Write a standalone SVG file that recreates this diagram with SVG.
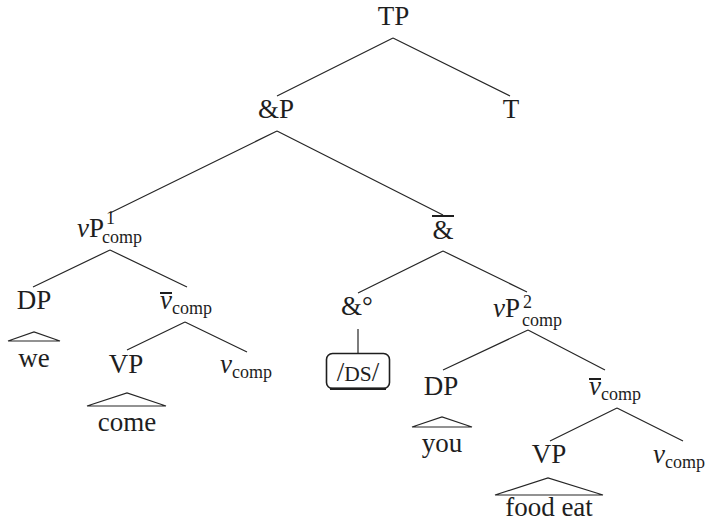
<svg xmlns="http://www.w3.org/2000/svg" width="708" height="523" viewBox="0 0 708 523">
  <style>
    text { font-family: "Liberation Serif", "Times New Roman", serif; fill: #1e1e1e; }
    .lbl { font-size: 27px; }
    .it { font-style: italic; }
    .sub { font-size: 18px; }
    .edge { stroke: #262626; stroke-width: 1.2; fill: none; }
    .tri { stroke: #262626; stroke-width: 1.2; fill: none; stroke-linejoin: miter; }
    .bar { stroke: #1e1e1e; stroke-width: 2; }
  </style>

  <!-- tree branches -->
  <g id="connectors">
    <path class="edge" d="M393,38 L277,96 M393,38 L510,96"/>
    <path class="edge" d="M277,131 L110,213 M277,131 L443,215"/>
    <path class="edge" d="M110,250 L33,287 M110,250 L187,287"/>
    <path class="edge" d="M185,322 L127,350 M185,322 L247,352"/>
    <path class="edge" d="M443,251 L358,293 M443,251 L527,292"/>
    <path class="edge" d="M358,329 L358,353"/>
    <path class="edge" d="M528,330 L443,370 M528,330 L605,370"/>
    <path class="edge" d="M617,408 L550,441 M617,408 L683,441"/>
  </g>

  <g id="TP"><text class="lbl" x="393.5" y="25" text-anchor="middle">TP</text></g>
  <g id="andP"><text class="lbl" x="276" y="118" text-anchor="middle">&amp;P</text></g>
  <g id="T"><text class="lbl" x="511" y="118" text-anchor="middle">T</text></g>

  <g id="vP1">
    <text class="lbl" x="77" y="237"><tspan class="it">v</tspan>P</text>
    <text class="sub" x="106" y="224">1</text>
    <text class="sub" x="102" y="243">comp</text>
  </g>

  <g id="DP1">
    <text class="lbl" x="34" y="309" text-anchor="middle">DP</text>
    <path class="tri" d="M8,341 L34,332 L60,341 Z"/>
    <text class="lbl" x="34" y="367" text-anchor="middle">we</text>
  </g>

  <g id="vbar1">
    <line class="bar" x1="160" y1="293" x2="172" y2="293"/>
    <text class="lbl it" x="160" y="309">v</text>
    <text class="sub" x="172" y="314">comp</text>
  </g>

  <g id="VP1">
    <text class="lbl" x="126" y="373" text-anchor="middle">VP</text>
    <path class="tri" d="M87,406 L127,393 L166,406 Z"/>
    <text class="lbl" x="127" y="431" text-anchor="middle">come</text>
  </g>

  <g id="v1">
    <text class="lbl it" x="220" y="373">v</text>
    <text class="sub" x="232" y="378">comp</text>
  </g>

  <g id="andbar">
    <line class="bar" x1="432" y1="216" x2="454" y2="216"/>
    <text class="lbl" x="443" y="239" text-anchor="middle">&amp;</text>
  </g>

  <g id="andhead">
    <text class="lbl" x="357" y="315" text-anchor="middle">&amp;°</text>
  </g>

  <g id="DS">
    <rect x="326.5" y="353.5" width="63" height="35" rx="6" ry="6" fill="#fff" stroke="#1e1e1e" stroke-width="1.6"/>
    <path d="M330,388.8 L386,388.8" stroke="#1e1e1e" stroke-width="2.4" fill="none"/>
    <text class="lbl" x="358" y="381" text-anchor="middle">/<tspan font-size="21.5">DS</tspan>/</text>
  </g>

  <g id="vP2">
    <text class="lbl" x="493" y="317"><tspan class="it">v</tspan>P</text>
    <text class="sub" x="523" y="308">2</text>
    <text class="sub" x="522" y="326">comp</text>
  </g>

  <g id="DP2">
    <text class="lbl" x="441" y="395" text-anchor="middle">DP</text>
    <path class="tri" d="M412,427 L442,417 L472,427 Z"/>
    <text class="lbl" x="442" y="452" text-anchor="middle">you</text>
  </g>

  <g id="vbar2">
    <line class="bar" x1="589" y1="379" x2="601" y2="379"/>
    <text class="lbl it" x="589" y="395">v</text>
    <text class="sub" x="601" y="400">comp</text>
  </g>

  <g id="VP2">
    <text class="lbl" x="549" y="463" text-anchor="middle">VP</text>
    <path class="tri" d="M495,495 L548,478 L603,495 Z"/>
    <text class="lbl" x="549" y="516" text-anchor="middle">food eat</text>
  </g>

  <g id="v2">
    <text class="lbl it" x="653" y="463">v</text>
    <text class="sub" x="665" y="468">comp</text>
  </g>
</svg>
